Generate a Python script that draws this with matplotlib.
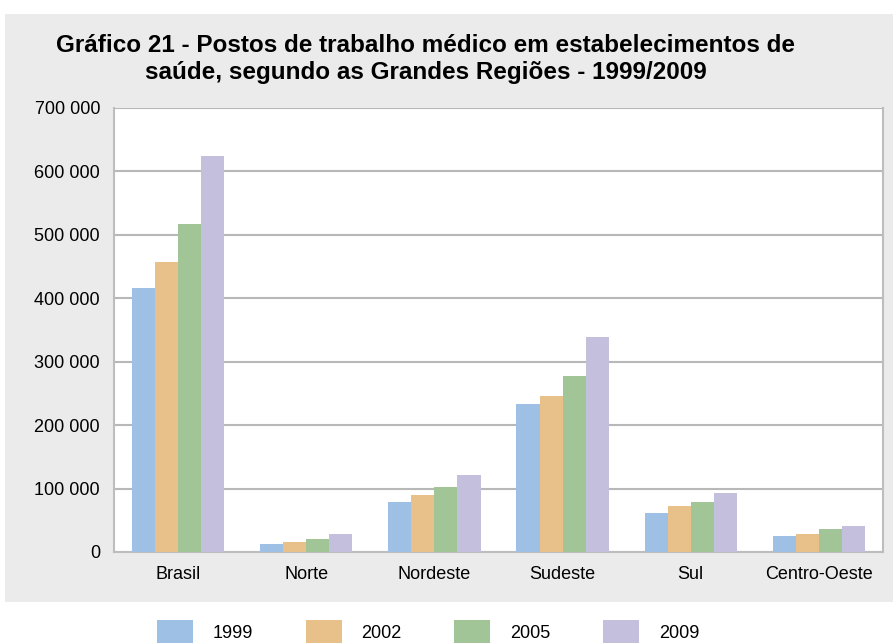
import matplotlib
matplotlib.use("Agg")
import matplotlib.pyplot as plt
import numpy as np
from matplotlib.patches import Rectangle
from matplotlib.ticker import FuncFormatter

plt.rcParams['font.family'] = ['Liberation Sans Narrow', 'Liberation Sans', 'DejaVu Sans']

categories = ["Brasil", "Norte", "Nordeste", "Sudeste", "Sul", "Centro-Oeste"]
years = ["1999", "2002", "2005", "2009"]
v1999 = [416000, 12600, 78800, 233300, 61500, 25200]
v2002 = [457000, 15800, 89900, 246000, 72500, 28400]
v2005 = [517000, 20500, 102500, 277500, 78800, 36300]
v2009 = [624500, 28400, 121400, 339000, 93000, 41000]
series = [v1999, v2002, v2005, v2009]
colors = ["#9dc0e4", "#e8c08a", "#a1c596", "#c4bfdd"]

W, H = 893, 643
fig = plt.figure(figsize=(W / 100, H / 100), dpi=100)
fig.patch.set_facecolor("white")
bg = Rectangle((5 / W, 1 - 602 / H), 1, (602 - 14) / H,
               transform=fig.transFigure, facecolor="#ebebeb",
               edgecolor="none", zorder=-10)
fig.patches.append(bg)

ax = fig.add_axes([114 / W, 1 - 552 / H, (883 - 114) / W, (552 - 108) / H])
ax.set_zorder(5)
ax.set_facecolor("white")
x = np.arange(len(categories))
bw = 0.18
for i, (vals, c) in enumerate(zip(series, colors)):
    ax.bar(x + (i - 1.5) * bw, vals, width=bw, color=c, label=years[i], zorder=3)

ax.set_xlim(-0.5, len(categories) - 0.5)
ax.set_ylim(0, 700000)
ax.set_yticks(np.arange(0, 700001, 100000))
ax.yaxis.set_major_formatter(FuncFormatter(lambda v, p: f"{int(v):,}".replace(",", " ")))
ax.set_xticks(x)
ax.set_xticklabels(categories)
ax.tick_params(axis="both", length=0, labelsize=13, colors="black")
ax.tick_params(axis="x", pad=10)
ax.tick_params(axis="y", pad=10)
ax.grid(axis="y", color="#b8b8b8", linewidth=1.5, zorder=1)
for s in ["left", "right", "bottom"]:
    ax.spines[s].set_color("#bdbdbd")
    ax.spines[s].set_linewidth(1.5)
ax.spines["top"].set_visible(False)

fig.text(426 / W, 1 - 45 / H, "Gráfico 21 - Postos de trabalho médico em estabelecimentos de",
         ha="center", va="center", fontsize=17.5, fontweight="bold")
fig.text(426 / W, 1 - 73 / H, "saúde, segundo as Grandes Regiões - 1999/2009",
         ha="center", va="center", fontsize=17.5, fontweight="bold")

handles, labels = ax.get_legend_handles_labels()
fig.legend(handles, labels, loc="center", bbox_to_anchor=(428 / W, 1 - 632 / H), ncol=4,
           frameon=False, fontsize=13, handlelength=2.0, handleheight=1.6,
           columnspacing=2.9, handletextpad=1.1)

fig.savefig("out.png", dpi=100)
